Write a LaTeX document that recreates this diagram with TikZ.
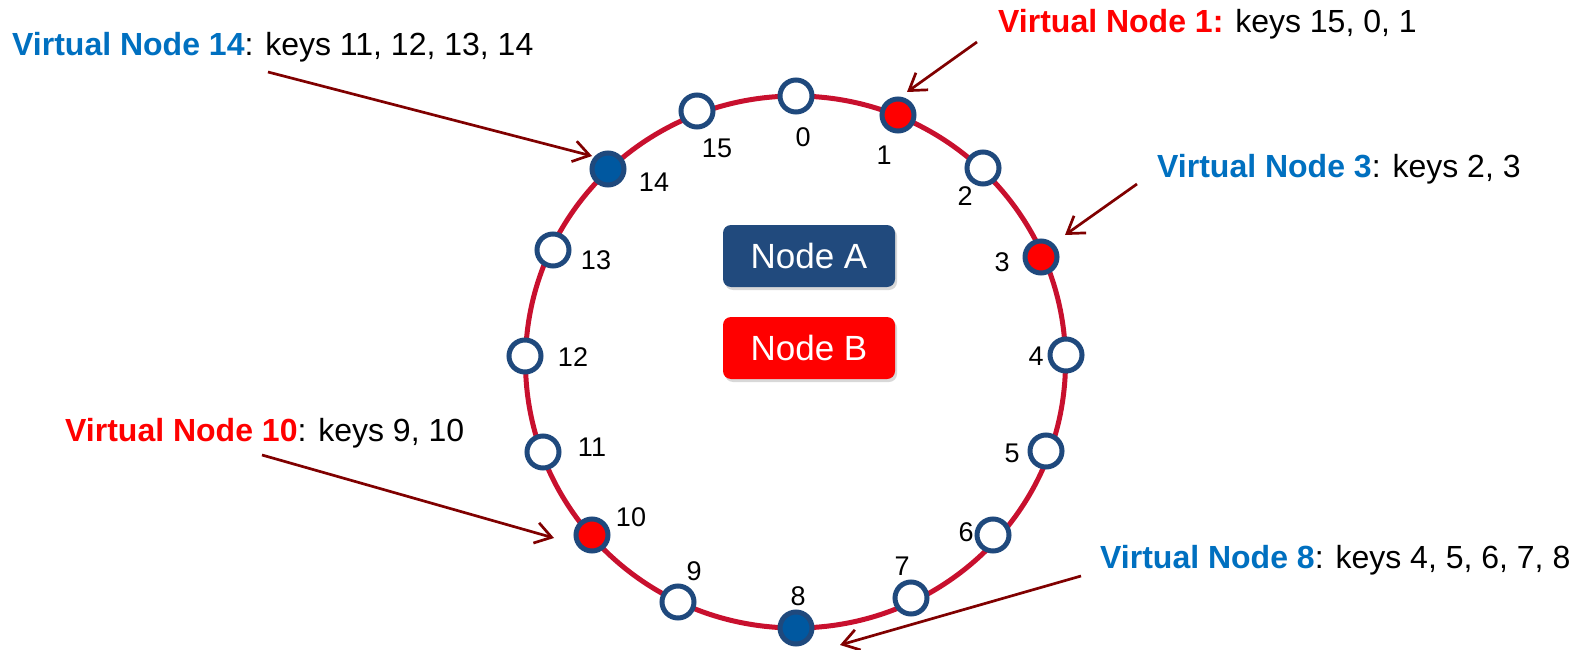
\documentclass[tikz,border=0pt]{standalone}
\usepackage{fontspec}
\setmainfont{Liberation Sans}
\usetikzlibrary{arrows.meta,shadows}
\definecolor{ringred}{RGB}{200,16,46}
\definecolor{nodeborder}{RGB}{31,73,125}
\definecolor{bluefill}{RGB}{0,88,160}
\definecolor{nodeAcol}{RGB}{33,74,125}
\definecolor{textblue}{RGB}{0,112,192}
\definecolor{arrowred}{RGB}{128,0,0}
\definecolor{pured}{RGB}{255,0,0}
\begin{document}
\begin{tikzpicture}[x=1pt,y=-1pt,
  vn/.style={circle,draw=nodeborder,line width=5pt,fill=white,minimum size=32pt,inner sep=0pt},
  num/.style={font=\fontsize{27}{31}\selectfont,inner sep=0pt},
  box/.style={rounded corners=8pt,minimum width=172pt,minimum height=62pt,text=white,
    font=\fontsize{35}{40}\selectfont,drop shadow={opacity=0.3,shadow xshift=2pt,shadow yshift=-3pt}},
  lab/.style={anchor=base west,inner sep=0pt,font=\fontsize{32}{36}\selectfont},
  arr/.style={draw=arrowred,line width=2.7pt,-{Straight Barb[length=16pt,width=21pt]}}]
\useasboundingbox (0,0) rectangle (1574,650);
\fill[white] (0,0) rectangle (1574,650);
% ring
\draw[ringred,line width=5pt] (795.5,362) ellipse [x radius=270, y radius=266];
% ring nodes
\node[vn] (n0) at (796,96) {};
\node[vn,fill=pured] (n1) at (898,115) {};
\node[vn] (n2) at (983,168) {};
\node[vn,fill=pured] (n3) at (1041,257) {};
\node[vn] (n4) at (1066,355) {};
\node[vn] (n5) at (1046,451) {};
\node[vn] (n6) at (993,535) {};
\node[vn] (n7) at (911,598) {};
\node[vn,fill=bluefill] (n8) at (796,628) {};
\node[vn] (n9) at (678,602) {};
\node[vn,fill=pured] (n10) at (592,535) {};
\node[vn] (n11) at (543,452) {};
\node[vn] (n12) at (525,356) {};
\node[vn] (n13) at (553,250) {};
\node[vn,fill=bluefill] (n14) at (608,169) {};
\node[vn] (n15) at (697,111) {};
% numbers
\node[num] (l0) at (803,137) {0};
\node[num] (l1) at (884,155) {1};
\node[num] (l2) at (965,196) {2};
\node[num] (l3) at (1002,262) {3};
\node[num] (l4) at (1036,356) {4};
\node[num] (l5) at (1012,453) {5};
\node[num] (l6) at (966,532) {6};
\node[num] (l7) at (902,566) {7};
\node[num] (l8) at (798,596) {8};
\node[num] (l9) at (694,571) {9};
\node[num] (l10) at (631,517) {10};
\node[num] (l11) at (592,447) {11};
\node[num] (l12) at (573,357) {12};
\node[num] (l13) at (596,260) {13};
\node[num] (l14) at (654,182) {14};
\node[num] (l15) at (717,148) {15};
% central boxes
\node[box,fill=nodeAcol] (A) at (809,256) {Node A};
\node[box,fill=pured] (B) at (809,348) {Node B};
% labels
\node[lab] (v14) at (12,56) {\textcolor{textblue}{\textbf{Virtual Node 14}}: keys 11, 12, 13, 14};
\node[lab] (v1) at (998,33) {\textcolor{pured}{\textbf{Virtual Node 1:}} keys 15, 0, 1};
\node[lab] (v3) at (1157,178) {\textcolor{textblue}{\textbf{Virtual Node 3}}: keys 2, 3};
\node[lab] (v10) at (65,441) {\textcolor{pured}{\textbf{Virtual Node 10}}: keys 9, 10};
\node[lab] (v8) at (1100,568) {\textcolor{textblue}{\textbf{Virtual Node 8}}: keys 4, 5, 6, 7, 8};
% arrow coordinates
\coordinate (s14) at (268,72);   \coordinate (t14) at (592,156);
\coordinate (s1) at (977,42);    \coordinate (t1) at (907,92);
\coordinate (s3) at (1137,184);  \coordinate (t3) at (1065,235);
\coordinate (s10) at (262,455);  \coordinate (t10) at (554,538);
\coordinate (s8) at (1081,576);  \coordinate (t8) at (840,645);
\draw[arr] (s14) -- (t14);
\draw[arr] (s1) -- (t1);
\draw[arr] (s3) -- (t3);
\draw[arr] (s10) -- (t10);
\draw[arr] (s8) -- (t8);
\end{tikzpicture}
\end{document}
